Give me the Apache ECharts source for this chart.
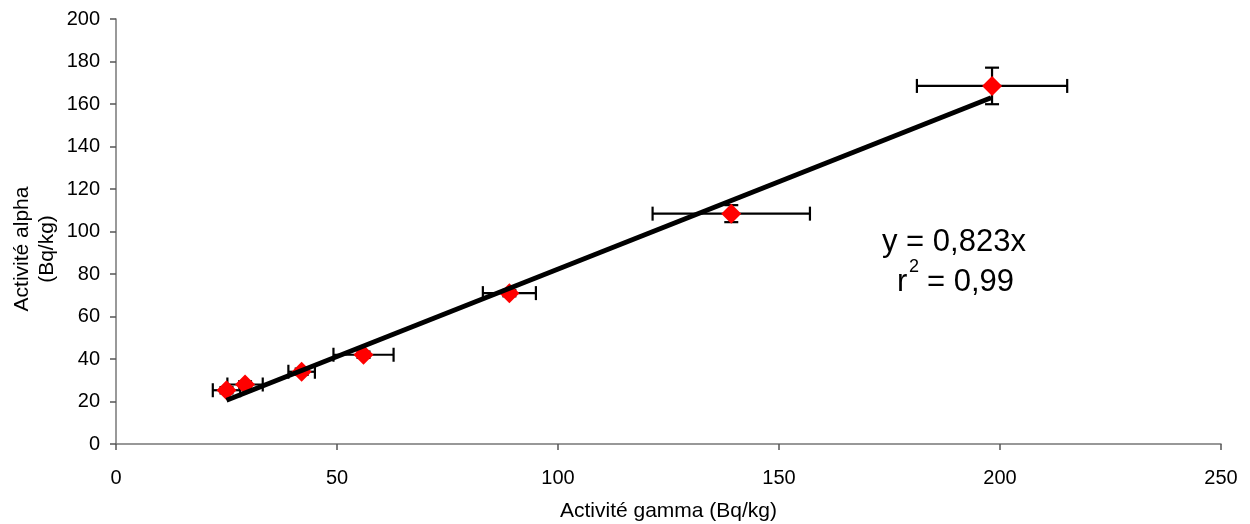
<!DOCTYPE html>
<html>
<head>
<meta charset="utf-8">
<script src="https://cdn.jsdelivr.net/npm/echarts@6/dist/echarts.min.js"></script>
<style>
html,body{margin:0;padding:0;background:#fff;}
#c{width:1250px;height:524px;}
</style>
</head>
<body>
<div id="c"></div>
<script>
// Data
var gamma = [25, 29.2, 42, 56, 89, 139.2, 198.2];
var alpha = [25.3, 28, 34, 42, 71, 108.4, 168.5];
var gammaErr = [3.1, 4, 3, 6.8, 6, 17.8, 17];
var alphaErr = [1.5, 1.5, 1.5, 1.5, 1.5, 4, 8.6];
var slope = 0.823;
var fitRange = [25, 198];
var xTicks = [0, 50, 100, 150, 200, 250];
var yTicks = [0, 20, 40, 60, 80, 100, 120, 140, 160, 180, 200];

var points = gamma.map(function (g, i) { return [g, alpha[i]]; });
var errData = gamma.map(function (g, i) { return [g, alpha[i], gammaErr[i], alphaErr[i]]; });
var fitData = fitRange.map(function (x) { return [x, slope * x]; });

var chart = echarts.init(document.getElementById('c'));
var font = '"Liberation Sans", Arial, sans-serif';
var CAP = 7;

function renderErr(params, api) {
  var x = api.value(0), y = api.value(1), ex = api.value(2), ey = api.value(3);
  var l = api.coord([x - ex, y]), r = api.coord([x + ex, y]);
  var t = api.coord([x, y + ey]), b = api.coord([x, y - ey]);
  var st = { stroke: '#000', lineWidth: 2.2 };
  return {
    type: 'group',
    children: [
      { type: 'line', shape: { x1: l[0], y1: l[1], x2: r[0], y2: r[1] }, style: st },
      { type: 'line', shape: { x1: l[0], y1: l[1] - CAP, x2: l[0], y2: l[1] + CAP }, style: st },
      { type: 'line', shape: { x1: r[0], y1: r[1] - CAP, x2: r[0], y2: r[1] + CAP }, style: st },
      { type: 'line', shape: { x1: t[0], y1: t[1], x2: b[0], y2: b[1] }, style: st },
      { type: 'line', shape: { x1: t[0] - CAP, y1: t[1], x2: t[0] + CAP, y2: t[1] }, style: st },
      { type: 'line', shape: { x1: b[0] - CAP, y1: b[1], x2: b[0] + CAP, y2: b[1] }, style: st }
    ]
  };
}

chart.setOption({
  animation: false,
  backgroundColor: '#fff',
  grid: { left: 116, right: 29, top: 19, bottom: 80, containLabel: false, outerBoundsMode: 'none' },
  xAxis: {
    type: 'value', min: xTicks[0], max: xTicks[xTicks.length - 1], interval: 50,
    name: 'Activité gamma (Bq/kg)', nameLocation: 'middle', nameGap: 57,
    nameTextStyle: { fontFamily: font, fontSize: 21, color: '#000' },
    axisLine: { show: true, lineStyle: { color: '#777', width: 1.5 } },
    axisTick: { show: true, length: 6, lineStyle: { color: '#555', width: 1.5 } },
    axisLabel: { fontFamily: font, fontSize: 20, color: '#000', margin: 24 },
    splitLine: { show: false }
  },
  yAxis: {
    type: 'value', min: yTicks[0], max: yTicks[yTicks.length - 1], interval: 20,
    axisLine: { show: true, lineStyle: { color: '#777', width: 1.5 } },
    axisTick: { show: true, length: 6, lineStyle: { color: '#555', width: 1.5 } },
    axisLabel: { fontFamily: font, fontSize: 20, color: '#000', margin: 16 },
    splitLine: { show: false }
  },
  series: [
    {
      type: 'custom', renderItem: renderErr, data: errData, z: 2,
      encode: { x: 0, y: 1 }
    },
    {
      type: 'scatter', data: points, symbol: 'diamond', symbolSize: [20, 20],
      itemStyle: { color: '#ff0000', opacity: 1 }, z: 3
    },
    {
      type: 'line', data: fitData, symbol: 'none', z: 4,
      lineStyle: { color: '#000', width: 5 }
    }
  ],
  graphic: [
    {
      type: 'text', x: 35, y: 249, rotation: Math.PI / 2,
      style: { text: 'Activité alpha\n(Bq/kg)', fontFamily: font, fontSize: 21, fill: '#000',
               align: 'center', verticalAlign: 'middle', lineHeight: 25 }
    },
    {
      type: 'text', x: 882, y: 242,
      style: { text: 'y = 0,823x', fontFamily: font, fontSize: 31, fill: '#000',
               align: 'left', verticalAlign: 'middle' }
    },
    {
      type: 'text', x: 897, y: 282,
      style: { text: 'r', fontFamily: font, fontSize: 31, fill: '#000',
               align: 'left', verticalAlign: 'middle' }
    },
    {
      type: 'text', x: 909, y: 267,
      style: { text: '2', fontFamily: font, fontSize: 18, fill: '#000',
               align: 'left', verticalAlign: 'middle' }
    },
    {
      type: 'text', x: 927, y: 282,
      style: { text: '= 0,99', fontFamily: font, fontSize: 31, fill: '#000',
               align: 'left', verticalAlign: 'middle' }
    }
  ]
});
</script>
</body>
</html>
